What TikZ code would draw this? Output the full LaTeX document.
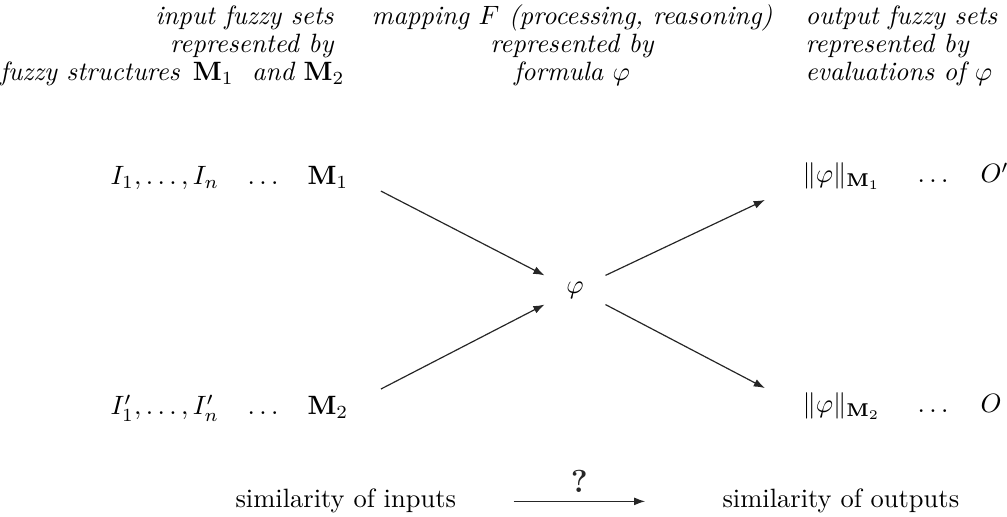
\documentclass[tikz,border=0pt]{standalone}
\usepackage{amsmath}
\usetikzlibrary{arrows.meta}
\tikzset{
  hd/.style={font=\itshape, inner sep=0pt},
  tx/.style={inner sep=0pt},
  arr/.style={-{Latex[length=4.2pt,width=3pt]}, black!85, line width=0.45pt}
}
\begin{document}
\begin{tikzpicture}[x=0.3774pt,y=-0.3774pt]
			\useasboundingbox (0,0) rectangle (1007,517);
			\clip (0,0) rectangle (1007,517);
			% headers
			\node[hd,anchor=base east] (h11) at (334,25) {input fuzzy sets};
			\node[hd,anchor=base east] (h12) at (334,53) {represented by};
			\node[hd,anchor=base east] (h13) at (345,81) {fuzzy structures\hspace{5pt}$\mathbf{M}_1$\hspace{7pt}and $\mathbf{M}_2$};
			\node[hd,anchor=base] (h21) at (572,25) {mapping $F$ (processing, reasoning)};
			\node[hd,anchor=base] (h22) at (572,53) {represented by};
			\node[hd,anchor=base] (h23) at (572,81) {formula $\varphi$};
			\node[hd,anchor=base west] (h31) at (805,25) {output fuzzy sets};
			\node[hd,anchor=base west] (h32) at (805,53) {represented by};
			\node[hd,anchor=base west] (h33) at (805,81) {evaluations of $\varphi$};
			% inputs
			\node[tx,anchor=base west] (in1) at (110,185) {$I_1,\ldots,I_n$};
			\node[tx,anchor=base west] (dl1) at (247,185) {$\ldots$};
			\node[tx,anchor=base west] (m1) at (307,185) {$\mathbf{M}_1$};
			\node[tx,anchor=base west] (in2) at (110,415) {$I'_1,\ldots,I'_n$};
			\node[tx,anchor=base west] (dl2) at (247,415) {$\ldots$};
			\node[tx,anchor=base west] (m2) at (307,415) {$\mathbf{M}_2$};
			% formula
			\node[tx,minimum width=22.6pt,minimum height=10.6pt] (phi) at (575,290) {$\varphi$};
			% outputs
			\node[tx,anchor=base west] (n1) at (802,183) {$\|\varphi\|_{\mathbf{M}_1}$};
			\node[tx,anchor=base west] (dr1) at (917,183) {$\ldots$};
			\node[tx,anchor=base west] (o1) at (980,183) {$O'$};
			\node[tx,anchor=base west] (n2) at (802,413) {$\|\varphi\|_{\mathbf{M}_2}$};
			\node[tx,anchor=base west] (dr2) at (917,413) {$\ldots$};
			\node[tx,anchor=base west] (o2) at (980,413) {$O$};
			\draw[arr] ([shift={(12.1pt,-2.3pt)}]m1.base east) -- (phi.north west);
			\draw[arr] ([shift={(12.1pt,9.8pt)}]m2.base east) -- (phi.south west);
			\draw[arr] (phi.north east) -- ([shift={(-14pt,-6.4pt)}]n1.base west);
			\draw[arr] (phi.south east) -- ([shift={(-14pt,9.4pt)}]n2.base west);
			% bottom line
			\node[tx,anchor=base west] (sin) at (235,508) {similarity of inputs};
			\node[tx,anchor=base west] (sout) at (722,508) {similarity of outputs};
			\draw[arr] ([xshift=21.5pt]sin.east) -- ([xshift=-29pt]sout.west)
				node[midway,above=3pt,inner sep=0pt] (q) {\large\textbf{?}};
		\end{tikzpicture}
\end{document}
